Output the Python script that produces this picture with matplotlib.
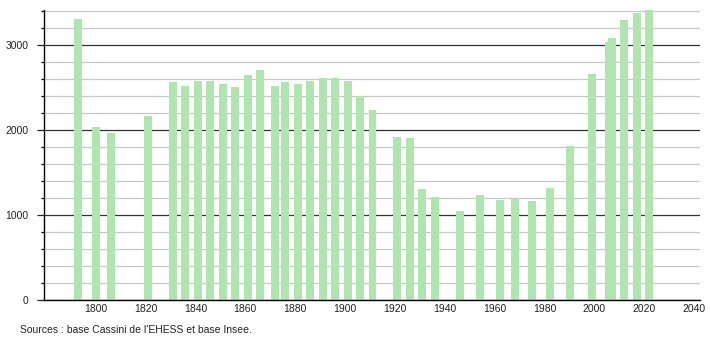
import matplotlib
matplotlib.use("Agg")
import matplotlib.pyplot as plt
from matplotlib.ticker import MultipleLocator

years = [1793, 1800, 1806, 1821, 1831, 1836, 1841, 1846, 1851, 1856,
         1861, 1866, 1872, 1876, 1881, 1886, 1891, 1896, 1901, 1906,
         1911, 1921, 1926, 1931, 1936, 1946, 1954, 1962, 1968, 1975,
         1982, 1990, 1999, 2006, 2007, 2012, 2017, 2022]
population = [3302, 2035, 1965, 2165, 2565, 2514, 2576, 2576, 2545, 2506,
              2643, 2706, 2518, 2561, 2545, 2576, 2612, 2612, 2580, 2400,
              2235, 1918, 1906, 1306, 1208, 1047, 1235, 1176, 1188, 1165,
              1322, 1812, 2659, 3039, 3078, 3294, 3376, 3410]
xticks = [1800, 1820, 1840, 1860, 1880, 1900, 1920, 1940, 1960, 1980, 2000, 2020, 2040]
yticks = [0, 1000, 2000, 3000]
source_text = "Sources : base Cassini de l'EHESS et base Insee."

plt.rcParams['font.family'] = ['Liberation Sans', 'DejaVu Sans']

fig = plt.figure(figsize=(7.1, 3.4), dpi=100)
ax = fig.add_axes([44/710, 40/340, 656/710, 290/340])

ax.set_xlim(1779.3, 2042.3)
ax.set_ylim(0, 3410)

ax.yaxis.set_major_locator(MultipleLocator(1000))
ax.yaxis.set_minor_locator(MultipleLocator(200))
ax.grid(axis='y', which='minor', color='#c8c8c8', linewidth=0.9, zorder=0)
ax.grid(axis='y', which='major', color='#333333', linewidth=0.9, zorder=1)

ax.bar(years, population, width=3.2, color='#b0e4b0', zorder=2)

ax.set_xticks(xticks)
ax.set_xticklabels([str(t) for t in xticks])
ax.set_yticks(yticks)
ax.set_yticklabels([str(t) for t in yticks])

for s in ['top', 'right']:
    ax.spines[s].set_visible(False)
for s in ['left', 'bottom']:
    ax.spines[s].set_color('black')
    ax.spines[s].set_linewidth(1.0)

ax.tick_params(axis='x', which='both', length=0, labelsize=7.5, pad=3, colors='#222222')
ax.tick_params(axis='y', which='major', length=5, width=0.9, labelsize=7.5, pad=6, colors='#222222')
ax.tick_params(axis='y', which='minor', length=2, width=0.9)

fig.text(20/710, 1 - 330/340, source_text, fontsize=7.5, color='#222222', va='center', ha='left')

fig.savefig('out.png', dpi=100, facecolor='white')
